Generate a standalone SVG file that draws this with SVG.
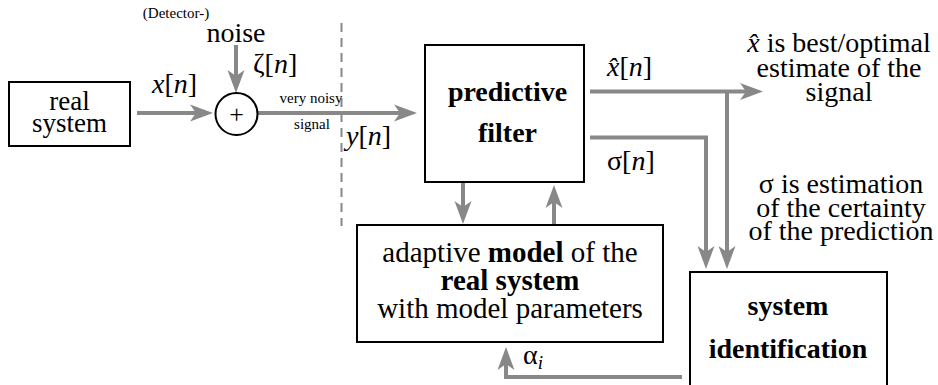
<svg xmlns="http://www.w3.org/2000/svg" width="938" height="385" viewBox="0 0 938 385">
<style>
text{font-family:"Liberation Serif","Times New Roman",Times,serif;fill:#000}
.t{font-size:28px}
.n{font-size:27px}
.b{font-weight:bold}
.s{font-size:15px}
.i{font-style:italic}
.box{fill:#fff;stroke:#000;stroke-width:2}
.c{fill:none;stroke:#888;stroke-width:4;marker-end:url(#ah)}
</style>
<defs>
<marker id="ah" markerUnits="userSpaceOnUse" viewBox="-24 -10 26 20" markerWidth="26" markerHeight="20" refX="-6" refY="0" orient="auto">
<path d="M0,0 L-23,-8.5 L-17,0 L-23,8.5 Z" fill="#888"/>
</marker>
</defs>
<rect width="938" height="385" fill="#fff"/>
<g id="connectors">
<path class="c" d="M137,113 H207"/>
<path class="c" d="M236,45 V87"/>
<path class="c" d="M258,113 H411"/>
<path class="c" d="M463,183 V218"/>
<path class="c" d="M554,226 V191"/>
<path class="c" d="M590,91.5 H757"/>
<path class="c" d="M727,91.5 V263"/>
<path class="c" d="M590,137.5 H706 V263"/>
<path class="c" d="M682,377 H506 V353"/>
<path d="M341.5,23 V226" fill="none" stroke="#888" stroke-width="2" stroke-dasharray="9 6"/>
</g>
<g id="real-system">
<rect class="box" x="9" y="82" width="121" height="64"/>
<text class="n" x="69.5" y="110" text-anchor="middle">real<tspan x="69.5" dy="21.5">system</tspan></text>
</g>
<g id="sum">
<circle cx="236.5" cy="114" r="21" fill="#fff" stroke="#000" stroke-width="2"/>
<text x="236.5" y="123" text-anchor="middle" style="font-size:26px">+</text>
</g>
<g id="noise">
<text class="s" x="176" y="18" text-anchor="middle">(Detector-)</text>
<text class="t" x="236" y="41.5" text-anchor="middle">noise</text>
<text class="t" x="253" y="73">ζ[<tspan class="i">n</tspan>]</text>
</g>
<g id="labels">
<text class="t" x="152" y="93"><tspan class="i">x</tspan>[<tspan class="i">n</tspan>]</text>
<text class="s" x="311" y="103" text-anchor="middle">very noisy</text>
<text class="s" x="312" y="129" text-anchor="middle">signal</text>
<text class="t" x="346" y="145"><tspan class="i">y</tspan>[<tspan class="i">n</tspan>]</text>
<text class="t" x="607" y="76"><tspan class="i">x̂</tspan>[<tspan class="i">n</tspan>]</text>
<text class="t" x="607" y="170">σ[<tspan class="i">n</tspan>]</text>
<text class="t" x="523" y="364">α<tspan class="i" style="font-size:19px" dy="5">i</tspan></text>
</g>
<g id="notes">
<text class="t" x="839" y="52" text-anchor="middle"><tspan class="i">x̂</tspan> is best/optimal<tspan x="839" dy="25">estimate of the</tspan><tspan x="839" dy="23.5">signal</tspan></text>
<text class="t" x="841" y="193" text-anchor="middle">σ is estimation<tspan x="841" dy="23.5">of the certainty</tspan><tspan x="841" dy="23.5">of the prediction</tspan></text>
</g>
<g id="predictive-filter">
<rect class="box" x="425" y="45" width="159" height="137"/>
<text class="t b" x="507.5" y="101" text-anchor="middle">predictive<tspan x="507.5" dy="41">filter</tspan></text>
</g>
<g id="model">
<rect class="box" x="357" y="225" width="306" height="117"/>
<text x="510" y="262" text-anchor="middle" style="font-size:29px">adaptive <tspan class="b">model</tspan> of the<tspan class="b" x="510" dy="28">real system</tspan><tspan x="510" dy="28">with model parameters</tspan></text>
</g>
<g id="system-identification">
<rect class="box" x="690" y="272" width="197" height="130"/>
<text class="t b" x="788" y="315" text-anchor="middle">system<tspan x="788" dy="43">identification</tspan></text>
</g>
</svg>
